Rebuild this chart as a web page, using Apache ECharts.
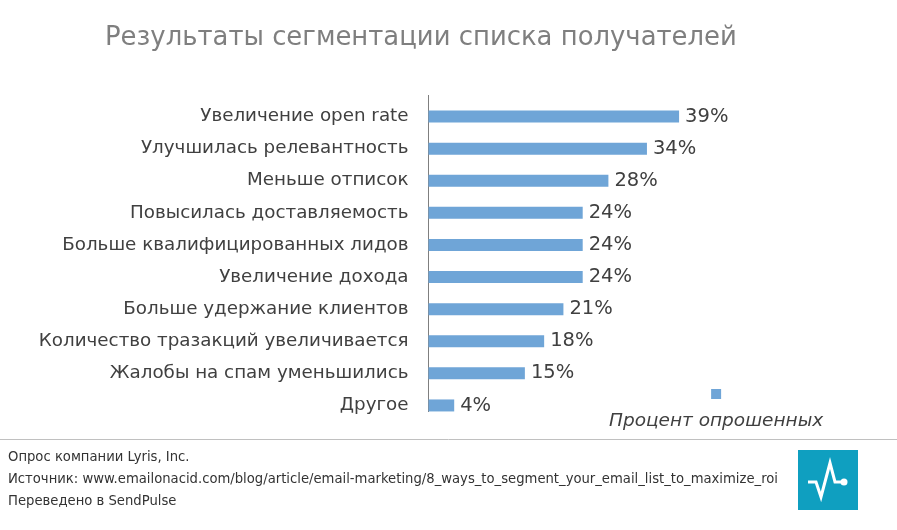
<!DOCTYPE html>
<html>
<head>
<meta charset="utf-8">
<style>
html, body { margin: 0; padding: 0; background: #fff; }
#chart { width: 897px; height: 530px; }
</style>
<script src="https://cdn.jsdelivr.net/npm/echarts@6/dist/echarts.min.js"></script>
</head>
<body>
<div id="chart"></div>
<script>
// данные с картинки
var categories = ['Увеличение open rate', 'Улучшилась релевантность', 'Меньше отписок', 'Повысилась доставляемость',
    'Больше квалифицированных лидов', 'Увеличение дохода', 'Больше удержание клиентов',
    'Количество тразакций увеличивается', 'Жалобы на спам уменьшились', 'Другое'];
var percents = [39, 34, 28, 24, 24, 24, 21, 18, 15, 4];
var seriesName = 'Процент опрошенных';
var titleText = 'Результаты сегментации списка получателей';
var footerLines = ['Опрос компании Lyris, Inc.',
    'Источник: www.emailonacid.com/blog/article/email-marketing/8_ways_to_segment_your_email_list_to_maximize_roi',
    'Переведено в SendPulse'];

var font = '"DejaVu Sans", Verdana, sans-serif';
var myChart = echarts.init(document.getElementById('chart'));

var option = {
    backgroundColor: '#fff',
    animation: false,
    title: {
        text: titleText,
        left: 100,
        top: 20,
        textStyle: { fontFamily: font, fontSize: 25.9, fontWeight: 'normal', color: '#7f7f7f' }
    },
    legend: {
        left: 599,
        top: 383,
        icon: 'none',
        itemWidth: 0,
        itemGap: 0,
        selectedMode: false,
        formatter: function (name) { return '{sq|}\n{t|' + name + '}'; },
        textStyle: {
            rich: {
                sq: { backgroundColor: '#6fa5d7', width: 10, height: 10, align: 'center' },
                t: { fontFamily: font, fontSize: 18.5, fontStyle: 'italic', color: '#404040', align: 'center', padding: [13, 0, 0, 0] }
            }
        },
        data: [seriesName]
    },
    grid: { left: 428.5, top: 100.5, width: 257, height: 321 },
    xAxis: { type: 'value', min: 0, max: 40, show: false },
    yAxis: {
        type: 'category',
        inverse: true,
        data: categories,
        axisLine: { show: false },
        axisTick: { show: false },
        axisLabel: { margin: 20, fontFamily: font, fontSize: 18.3, color: '#404040' }
    },
    series: [{
        name: seriesName,
        type: 'bar',
        data: percents,
        barWidth: 12,
        itemStyle: { color: '#6fa5d7' },
        label: {
            show: true,
            position: 'right',
            distance: 6,
            formatter: '{c}%',
            fontFamily: font,
            fontSize: 19.5,
            color: '#404040'
        }
    }],
    graphic: [
        // ось и разделитель
        { type: 'line', shape: { x1: 428.5, y1: 95, x2: 428.5, y2: 412 }, style: { stroke: '#7f7f7f', lineWidth: 1 } },
        { type: 'line', shape: { x1: 0, y1: 439.5, x2: 897, y2: 439.5 }, style: { stroke: '#c0c0c0', lineWidth: 1 } },
        // подвал
        { type: 'text', x: 8, y: 451, style: { text: footerLines[0], font: '13.2px ' + font, fill: '#333' } },
        { type: 'text', x: 8, y: 473, style: { text: footerLines[1], font: '13.2px ' + font, fill: '#333' } },
        { type: 'text', x: 8, y: 495, style: { text: footerLines[2], font: '13.2px ' + font, fill: '#333' } },
        // логотип
        { type: 'rect', shape: { x: 798, y: 450, width: 60, height: 60 }, style: { fill: '#0f9fc0' } },
        { type: 'polyline', shape: { points: [[808, 482], [816, 482], [821, 497], [830, 463], [835, 482], [844, 482]] },
          style: { stroke: '#fff', lineWidth: 3, fill: null } },
        { type: 'circle', shape: { cx: 844, cy: 482, r: 3.5 }, style: { fill: '#fff' } }
    ]
};
myChart.setOption(option);
</script>
</body>
</html>
